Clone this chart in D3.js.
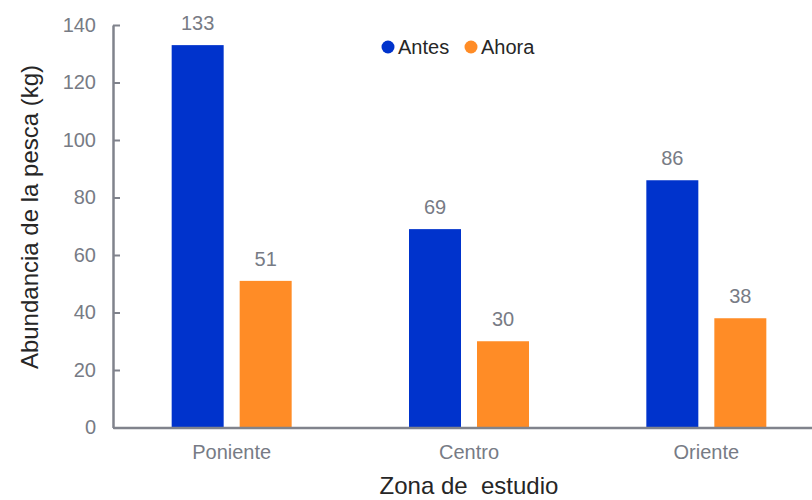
<!DOCTYPE html>
<html lang="es">
<head>
  <meta charset="utf-8">
  <title>Abundancia de la pesca</title>
  <script src="https://d3js.org/d3.v7.min.js"></script>
  <style>
    body { margin: 0; background: #ffffff; }
    svg text { font-family: "Liberation Sans", Arial, sans-serif; }
  </style>
</head>
<body>
<div id="chart"></div>
<script>
  // data
  var zonas = ["Poniente", "Centro", "Oriente"];
  var series = ["Antes", "Ahora"];
  var antes = [133, 69, 86];
  var ahora = [51, 30, 38];
  var yTicks = [0, 20, 40, 60, 80, 100, 120, 140];

  var width = 812;
  var height = 500;
  var colors = { "Antes": "#0033cc", "Ahora": "#ff8c26" };
  var axisColor = "#80838c";
  var tickTextColor = "#777b85";

  // build the rows the bars are drawn from
  var rows = zonas.map(function(z, i) {
    return { zona: z, values: [{ key: "Antes", value: antes[i] }, { key: "Ahora", value: ahora[i] }] };
  });

  var svg = d3.select("#chart")
    .append("svg")
    .attr("width", width)
    .attr("height", height);

  var x0 = d3.scaleBand()
    .domain(zonas)
    .range([113, 825])
    .padding(0);

  var x1 = d3.scaleBand()
    .domain(series)
    .range([0, 120])
    .paddingInner(16 / 68);

  var y = d3.scaleLinear()
    .domain([0, 140])
    .range([427.5, 25]);

  // bars
  var groups = svg.selectAll("g.zona")
    .data(rows)
    .enter()
      .append("g")
      .attr("class", "zona")
      .attr("transform", function(d) {
        return "translate(" + (x0(d.zona) + x0.bandwidth() / 2 - 60) + ",0)";
      });

  groups.selectAll("rect")
    .data(function(d) { return d.values; })
    .enter()
      .append("rect")
      .attr("x", function(d) { return x1(d.key); })
      .attr("y", function(d) { return y(d.value); })
      .attr("width", x1.bandwidth())
      .attr("height", function(d) { return y(0) - y(d.value); })
      .style("fill", function(d) { return colors[d.key]; });

  // value labels above bars
  groups.selectAll("text.val")
    .data(function(d) { return d.values; })
    .enter()
      .append("text")
      .attr("class", "val")
      .attr("x", function(d) { return x1(d.key) + x1.bandwidth() / 2; })
      .attr("y", function(d) { return y(d.value) - 15; })
      .attr("text-anchor", "middle")
      .style("font-size", "20px")
      .style("fill", tickTextColor)
      .text(function(d) { return d.value; });

  // y axis, ticks point into the plot
  var yAxis = svg.append("g")
    .attr("transform", "translate(113,0)")
    .call(d3.axisRight(y).tickValues(yTicks).tickSize(7).tickSizeOuter(0).tickFormat(d3.format("d")));

  yAxis.select(".domain").attr("stroke", axisColor).attr("stroke-width", 2.5);
  yAxis.selectAll(".tick line").attr("stroke", axisColor).attr("stroke-width", 2);
  yAxis.selectAll(".tick text")
    .attr("x", -17)
    .attr("text-anchor", "end")
    .style("font-size", "20px")
    .style("font-family", "'Liberation Sans', Arial, sans-serif")
    .style("fill", tickTextColor);

  // x axis, no tick marks
  var xAxis = svg.append("g")
    .attr("transform", "translate(0," + y(0) + ")")
    .call(d3.axisBottom(x0).tickSize(0).tickSizeOuter(0));

  xAxis.select(".domain").attr("stroke", axisColor).attr("stroke-width", 2.5);
  xAxis.selectAll(".tick text")
    .attr("y", 0)
    .attr("dy", "31px")
    .style("font-size", "20px")
    .style("font-family", "'Liberation Sans', Arial, sans-serif")
    .style("fill", tickTextColor);

  // axis titles
  svg.append("text")
    .attr("transform", "translate(38,217) rotate(-90)")
    .attr("text-anchor", "middle")
    .style("font-size", "24px")
    .style("fill", "#262626")
    .text("Abundancia de la pesca (kg)");

  svg.append("text")
    .attr("x", 469)
    .attr("y", 494)
    .attr("text-anchor", "middle")
    .style("font-size", "24px")
    .style("fill", "#262626")
    .style("white-space", "pre")
    .text("Zona de  estudio");

  // legend
  var legendX = [388, 471];
  var legend = svg.selectAll("g.legend")
    .data(series)
    .enter()
      .append("g")
      .attr("class", "legend")
      .attr("transform", function(d, i) { return "translate(" + legendX[i] + ",47)"; });

  legend.append("circle")
    .attr("r", 6.5)
    .style("fill", function(d) { return colors[d]; });

  legend.append("text")
    .attr("x", 10)
    .attr("y", 7)
    .style("font-size", "20px")
    .style("fill", "#262626")
    .text(function(d) { return d; });
</script>
</body>
</html>
